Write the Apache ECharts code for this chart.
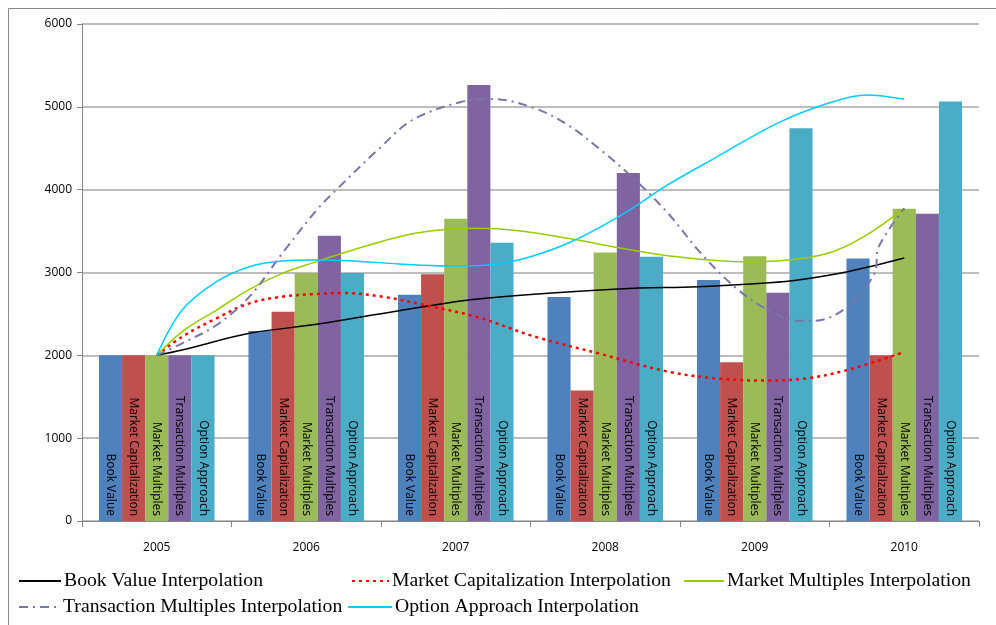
<!DOCTYPE html>
<html>
<head>
<meta charset="utf-8">
<script src="https://cdn.jsdelivr.net/npm/echarts@6/dist/echarts.min.js"></script>
<style>
  html, body { margin: 0; padding: 0; background: #fff; }
  #chart { width: 996px; height: 625px; }
</style>
</head>
<body>
<div id="chart"></div>
<script>
// Valuation by method, 2005-2010
const years = ['2005', '2006', '2007', '2008', '2009', '2010'];

const bookValue            = [2000, 2295, 2730, 2705, 2910, 3170];
const marketCapitalization = [2000, 2525, 2980, 1575, 1915, 2000];
const marketMultiples      = [2000, 2995, 3650, 3240, 3195, 3770];
const transactionMultiples = [2000, 3445, 5265, 4200, 2755, 3710];
const optionApproach       = [2000, 2995, 3360, 3190, 4740, 5065];

const yTicks = { min: 0, max: 6000, interval: 1000 };

// Interpolation curves: [year, value] samples along each curve
const bookValueCurve = [
  [2005, 2000], [2005.17, 2064], [2005.62, 2266], [2006.07, 2374], [2006.62, 2539],
  [2007.15, 2680], [2008.1, 2801], [2008.62, 2829], [2009.1, 2877], [2009.29, 2910],
  [2009.62, 3010], [2010, 3175]
];
const marketCapCurve = [
  [2005, 2000], [2005.17, 2225], [2005.4, 2447], [2005.62, 2628], [2005.84, 2708],
  [2006.07, 2741], [2006.25, 2752], [2006.51, 2708], [2006.82, 2596], [2007.15, 2459],
  [2007.53, 2225], [2007.97, 2016], [2008.42, 1803], [2008.75, 1720], [2009.09, 1695],
  [2009.35, 1723], [2009.62, 1823], [2010, 2040]
];
const marketMultiplesCurve = [
  [2005, 2000], [2005.17, 2286], [2005.4, 2547], [2005.62, 2797], [2005.84, 2990],
  [2006.07, 3131], [2006.29, 3260], [2006.73, 3473], [2007.15, 3533], [2007.42, 3505],
  [2007.75, 3413], [2008.09, 3300], [2008.42, 3203], [2008.93, 3131], [2009.15, 3139],
  [2009.49, 3232], [2009.73, 3432], [2010, 3774]
];
const transactionMultiplesCurve = [
  [2005, 2000], [2005.17, 2145], [2005.4, 2366], [2005.62, 2708], [2005.84, 3232],
  [2006.07, 3755], [2006.2, 3996], [2006.49, 4500], [2006.71, 4841], [2007.04, 5062],
  [2007.24, 5095], [2007.53, 4982], [2007.75, 4781], [2007.97, 4479], [2008.2, 4117],
  [2008.42, 3715], [2008.64, 3232], [2008.87, 2820], [2009.07, 2568], [2009.29, 2418],
  [2009.4, 2418], [2009.62, 2587], [2009.8, 2990], [2009.83, 3312], [2010, 3774]
];
const optionApproachCurve = [
  [2005, 2000], [2005.17, 2547], [2005.4, 2889], [2005.62, 3070], [2005.84, 3139],
  [2006.07, 3151], [2006.29, 3143], [2006.62, 3103], [2006.95, 3079], [2007.15, 3083],
  [2007.42, 3151], [2007.75, 3353], [2008.09, 3675], [2008.42, 4060], [2008.75, 4399],
  [2009.15, 4801], [2009.49, 5043], [2009.75, 5143], [2010, 5091]
];

const barColors = ['#4F81BD', '#C0504D', '#9BBB59', '#8064A2', '#4BACC6'];
const barNames = ['Book Value', 'Market Capitalization', 'Market Multiples', 'Transaction Multiples', 'Option Approach'];
const barData = [bookValue, marketCapitalization, marketMultiples, transactionMultiples, optionApproach];

const axisFont = '"Open Sans", "Noto Sans", sans-serif';
const legendFont = '"Liberation Serif", "DejaVu Serif", serif';

const barSeries = barNames.map((name, i) => ({
  name: name,
  type: 'bar',
  xAxisIndex: 0,
  yAxisIndex: 0,
  data: barData[i],
  barGap: '0%',
  barCategoryGap: '22.7%',
  itemStyle: { color: barColors[i] },
  label: {
    show: true,
    formatter: '{a}',
    position: 'insideBottom',
    rotate: -90,
    align: 'right',
    verticalAlign: 'middle',
    distance: 5,
    color: '#000',
    fontFamily: axisFont,
    fontSize: 12
  },
  z: 2
}));

const lineDefs = [
  { name: 'Book Value Interpolation', data: bookValueCurve, color: '#000000', width: 1.5, type: 'solid' },
  { name: 'Market Capitalization Interpolation', data: marketCapCurve, color: '#FF0000', width: 2.5, type: [3, 4] },
  { name: 'Market Multiples Interpolation', data: marketMultiplesCurve, color: '#99CC00', width: 1.5, type: 'solid' },
  { name: 'Transaction Multiples Interpolation', data: transactionMultiplesCurve, color: '#7878A8', width: 2, type: [9, 5, 2, 5] },
  { name: 'Option Approach Interpolation', data: optionApproachCurve, color: '#00CCFF', width: 1.5, type: 'solid' }
];

const lineSeries = lineDefs.map(d => ({
  name: d.name,
  type: 'line',
  xAxisIndex: 1,
  yAxisIndex: 0,
  data: d.data,
  smooth: 0.35,
  symbol: 'none',
  color: d.color,
  lineStyle: { color: d.color, width: d.width, type: d.type },
  z: 5
}));

// One legend block per entry so each sits in its own column
const legendSlots = [
  { name: lineDefs[0].name, left: 18, top: 571, w: 42 },
  { name: lineDefs[1].name, left: 351, top: 571, w: 37 },
  { name: lineDefs[2].name, left: 683, top: 571, w: 40 },
  { name: lineDefs[3].name, left: 18, top: 597, w: 41 },
  { name: lineDefs[4].name, left: 347, top: 597, w: 44 }
];

const legends = legendSlots.map(s => ({
  data: [s.name],
  left: s.left,
  top: s.top,
  padding: 0,
  itemWidth: s.w,
  itemHeight: 14,
  itemGap: 0,
  selectedMode: false,
  itemStyle: { opacity: 0 },
  textStyle: { fontFamily: legendFont, fontSize: 19.7, color: '#000', lineHeight: 20, padding: [0, 0, 0, -2] }
}));

const chart = echarts.init(document.getElementById('chart'), null, { renderer: 'canvas' });

chart.setOption({
  animation: false,
  backgroundColor: '#fff',
  graphic: [{
    type: 'rect',
    shape: { x: 8.5, y: 8.5, width: 1100, height: 800 },
    style: { fill: 'none', stroke: '#878787', lineWidth: 1 },
    silent: true,
    z: 0
  }],
  grid: { left: 82, right: 17, top: 24, bottom: 104, containLabel: false },
  legend: legends,
  xAxis: [
    {
      type: 'category',
      data: years,
      axisLine: { lineStyle: { color: '#868686', width: 1 } },
      axisTick: { show: true, length: 6, alignWithLabel: false, lineStyle: { color: '#868686' } },
      axisLabel: { fontFamily: axisFont, fontSize: 12, color: '#000', margin: 21 },
      splitLine: { show: false }
    },
    {
      type: 'value',
      min: 2004.5,
      max: 2010.5,
      show: false,
      splitLine: { show: false }
    }
  ],
  yAxis: {
    type: 'value',
    min: yTicks.min,
    max: yTicks.max,
    interval: yTicks.interval,
    axisLine: { show: true, lineStyle: { color: '#868686', width: 1 } },
    axisTick: { show: true, length: 5, lineStyle: { color: '#868686' } },
    axisLabel: { fontFamily: axisFont, fontSize: 12, color: '#000', margin: 10, formatter: v => String(v) },
    splitLine: { show: true, lineStyle: { color: '#BDBDBD', width: 2 } }
  },
  series: barSeries.concat(lineSeries)
});
</script>
</body>
</html>
